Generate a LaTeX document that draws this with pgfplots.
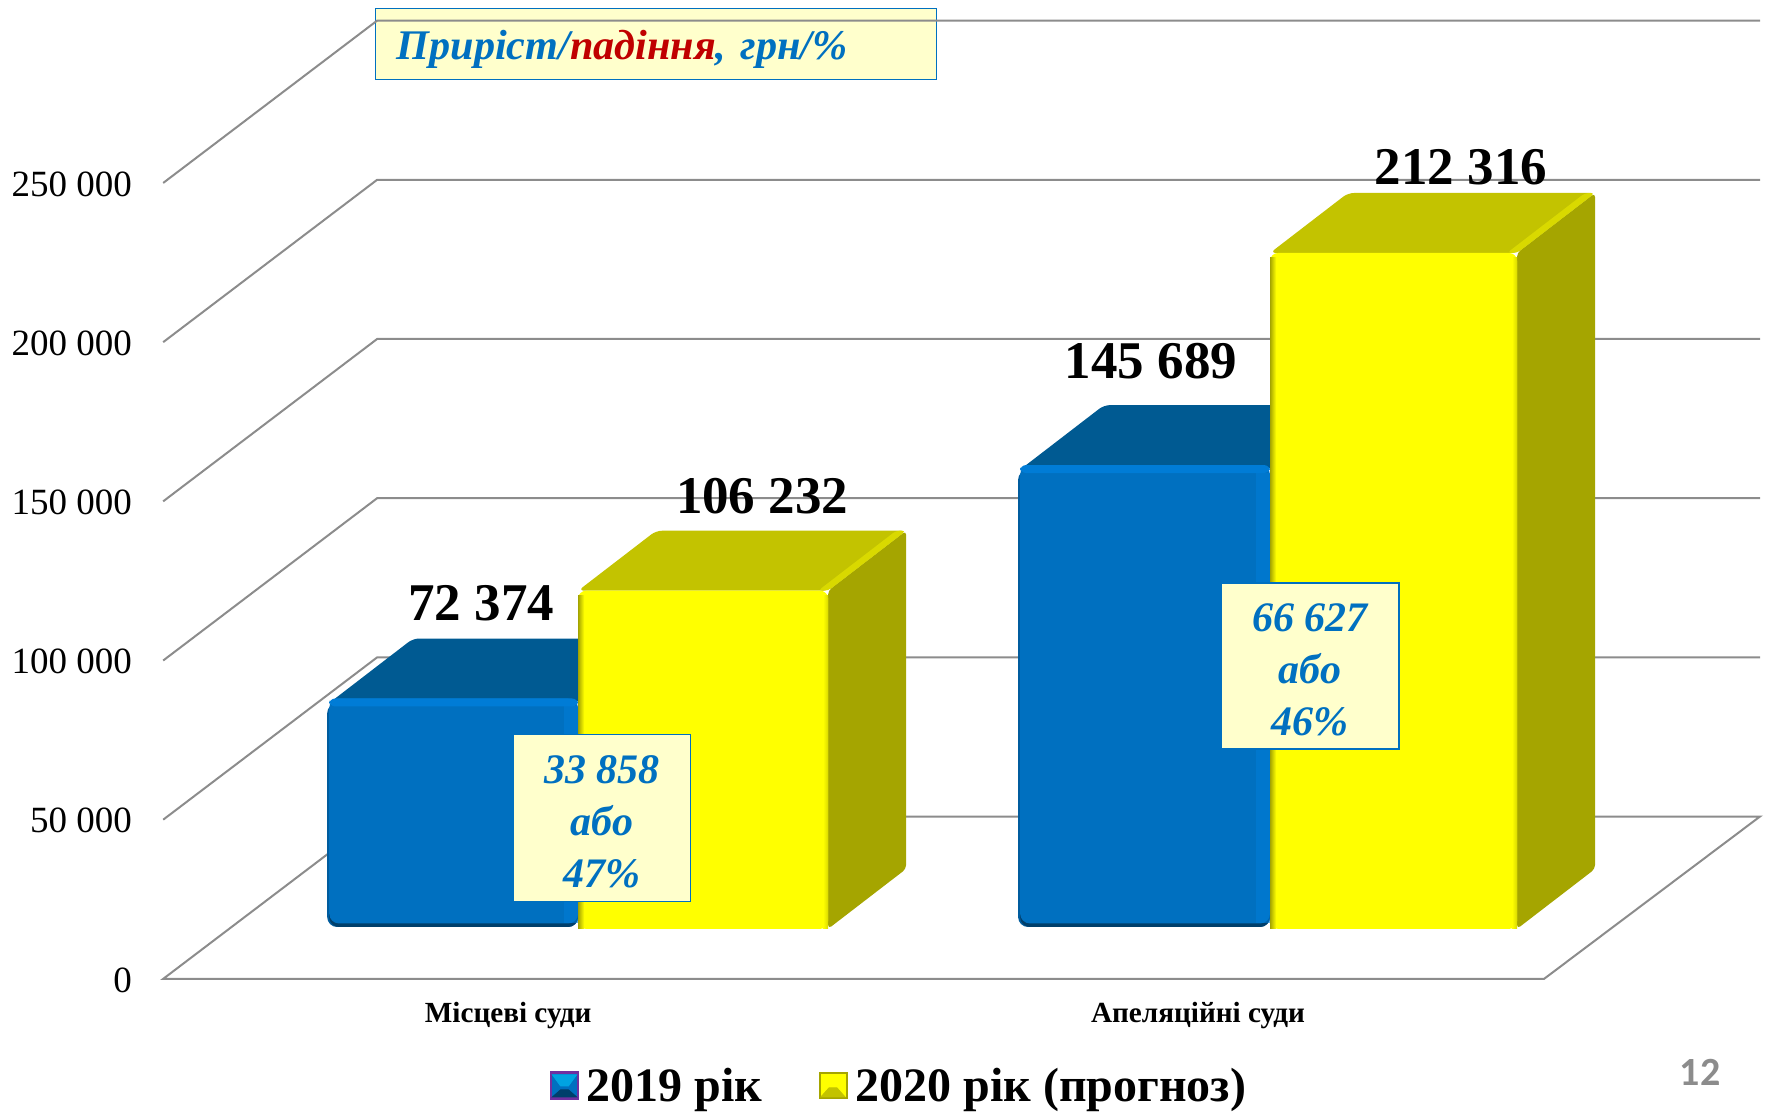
\documentclass[border=0pt]{standalone}
\usepackage{fontspec}
\setmainfont{Liberation Serif}
\newfontfamily\calib{Carlito}
\usepackage{pgfplots}
\pgfplotsset{compat=1.18}
\definecolor{barBlue}{HTML}{0070C0}
\definecolor{blueTop}{HTML}{005A92}
\definecolor{blueDark}{HTML}{003F6B}
\definecolor{blueMid}{HTML}{005C9E}
\definecolor{blueLight}{HTML}{007CD6}
\definecolor{barYellow}{HTML}{FFFF00}
\definecolor{yelTop}{HTML}{C3C300}
\definecolor{yelSide}{HTML}{A5A500}
\definecolor{yelEdge}{HTML}{D9D900}
\definecolor{boxFill}{HTML}{FFFFCC}
\definecolor{gridGray}{HTML}{8C8C8C}
\definecolor{numRed}{HTML}{C00000}
\definecolor{legPurple}{HTML}{7030A0}

% picture is laid out in reference pixels: x = px, y = value, 1 px = 0.5pt
\newcommand\py[1]{\the\numexpr(979-#1)*3141/10\relax}
\newcommand\fs[1]{\fontsize{#1}{#1}\selectfont}

\tikzset{
  wall/.style={draw=gridGray, line width=1pt, line join=miter},
  face/.style={draw=none},
  callout/.style={draw=barBlue, fill=boxFill, line width=0.8pt, align=center,
    text=barBlue, font=\fontsize{21}{26}\selectfont\bfseries\itshape, inner sep=0pt},
  datalabel/.style={font=\fs{26.5}\bfseries, inner sep=0pt},
}

% arguments: left px, right px, value
\newcommand\BlueBar[3]{%
  \edef\low{16300}%
  \edef\topv{\the\numexpr#3+15700\relax}%
  \edef\backv{\the\numexpr#3+15700+18840\relax}%
  \edef\strip{\the\numexpr#3+15700-2500\relax}%
  \edef\under{\the\numexpr#3+15700-1200\relax}%
  \edef\xa{#1}\edef\xb{#2}%
  \edef\xs{\the\numexpr#1+3\relax}%
  \edef\xc{\the\numexpr#1+86\relax}\edef\xd{\the\numexpr#2+86\relax}%
  \edef\xin{\the\numexpr#1+2\relax}\edef\xr{\the\numexpr#2-14\relax}%
  \edef\lowin{\the\numexpr16300+1100\relax}%
  \edef\toplow{\the\numexpr#3+15700-1500\relax}%
  \addplot[forget plot, face, fill=blueTop, rounded corners=3pt] coordinates
    {(\xs,\under) (\xb,\under) (\xd,\backv) (\xc,\backv)} --cycle;
  \addplot[forget plot, face, fill=blueMid, rounded corners=5pt] coordinates
    {(\xa,\low) (\xb,\low) (\xb,\toplow) (\xa,\toplow)} --cycle;
  \addplot[forget plot, face, fill=blueDark, rounded corners=5pt] coordinates
    {(\xin,\low) (\xb,\low) (\xb,\strip) (\xin,\strip)} --cycle;
  \addplot[forget plot, face, fill=barBlue, rounded corners=5pt] coordinates
    {(\xin,\lowin) (\xb,\lowin) (\xb,\topv) (\xin,\topv)} --cycle;
  \addplot[forget plot, face, fill=blueLight, rounded corners=3pt] coordinates
    {(\xin,\strip) (\xb,\strip) (\xb,\topv) (\xin,\topv)} --cycle;
  \addplot[forget plot, face, fill=blueLight, opacity=.6] coordinates
    {(\xr,\lowin) (\xb,\lowin) (\xb,\strip) (\xr,\strip)} --cycle;
}
\newcommand\YellowBar[3]{%
  \edef\base{15700}%
  \edef\topv{\the\numexpr#3+15700\relax}%
  \edef\backv{\the\numexpr#3+15700+18840\relax}%
  \edef\floorb{\the\numexpr15700+18840\relax}%
  \edef\toplow{\the\numexpr#3+15700-1500\relax}%
  \edef\xa{#1}\edef\xb{#2}%
  \edef\xc{\the\numexpr#1+78\relax}\edef\xd{\the\numexpr#2+78\relax}%
  \edef\xl{\the\numexpr#1+6\relax}\edef\xr{\the\numexpr#2-5\relax}%
  \edef\xe{\the\numexpr#2-10\relax}\edef\xf{\the\numexpr#2+68\relax}%
  \addplot[forget plot, face, fill=yelSide, rounded corners=2pt] coordinates
    {(\xb,\base) (\xd,\floorb) (\xd,\backv) (\xb,\topv)} --cycle;
  \addplot[forget plot, face, fill=yelTop, rounded corners=3pt] coordinates
    {(\xa,\topv) (\xb,\topv) (\xd,\backv) (\xc,\backv)} --cycle;
  \addplot[forget plot, face, fill=yelEdge, rounded corners=2pt] coordinates
    {(\xe,\topv) (\xb,\topv) (\xd,\backv) (\xf,\backv)} --cycle;
  \addplot[forget plot, face, fill=barYellow, rounded corners=4pt] coordinates
    {(\xa,\base) (\xb,\base) (\xb,\topv) (\xa,\topv)} --cycle;
  \addplot[forget plot, face, left color=yelSide, right color=barYellow] coordinates
    {(\xa,\base) (\xl,\base) (\xl,\toplow) (\xa,\toplow)} --cycle;
  \addplot[forget plot, face, left color=barYellow, right color=yelEdge] coordinates
    {(\xr,\base) (\xb,\base) (\xb,\toplow) (\xr,\toplow)} --cycle;
}

\begin{document}
\begin{tikzpicture}
\begin{axis}[
  scale only axis, width=883.5pt, height=556pt,
  xmin=0, xmax=1767, ymin=-41771, ymax=307475,
  axis line style={draw=none},
  major tick length=0pt,
  axis x line*=bottom, axis y line*=left,
  scaled y ticks=false,
  ytick={0,50000,100000,150000,200000,250000},
  yticklabels={0,50 000,100 000,150 000,200 000,250 000},
  yticklabel style={font=\fs{18.5}, anchor=east, xshift=66pt, yshift=-0.5pt, inner xsep=0pt},
  xtick={508,1198},
  xticklabels={Місцеві суди,Апеляційні суди},
  xticklabel style={font=\fs{14.6}\bfseries, anchor=center, yshift=48pt},
  legend columns=2,
  legend style={draw=none, fill=none, at={(axis cs:902,\py{1086})}, anchor=center,
    font=\fs{24}\bfseries, inner sep=0pt,
    /tikz/every even column/.append style={column sep=24pt},
    nodes={inner xsep=4pt, inner ysep=0pt}},
  legend cell align=left,
]
  % header box sits under the top gridline
  \node[callout, anchor=center, minimum height=35.5pt, text width=259.5pt,
        inner xsep=10.5pt, align=left, font=\fs{21.1}\bfseries\itshape]
    at (axis cs:656,\py{44}) {\raisebox{-7.8pt}[0pt][0pt]{Приріст/\textcolor{numRed}{падіння}, грн/\%}};

  % floor and back wall
  \addplot[wall, forget plot] coordinates {(163,0) (1544,0) (1760,51000) (377,51000)} --cycle;
  \addplot[wall, forget plot] coordinates {(163,50000) (377,101000) (1760,101000)};
  \addplot[wall, forget plot] coordinates {(163,100000) (377,151000) (1760,151000)};
  \addplot[wall, forget plot] coordinates {(163,150000) (377,201000) (1760,201000)};
  \addplot[wall, forget plot] coordinates {(163,200000) (377,251000) (1760,251000)};
  \addplot[wall, forget plot] coordinates {(163,250000) (377,301000) (1760,301000)};

  % bars
  \BlueBar{327}{578}{72374}
  \YellowBar{578}{828}{106232}
  \BlueBar{1018}{1270}{145689}
  \YellowBar{1270}{1517}{212316}

  % values above bars
  \node[datalabel] at (axis cs:481,\py{603}) {72 374};
  \node[datalabel] at (axis cs:762,\py{496}) {106 232};
  \node[datalabel] at (axis cs:1151,\py{361}) {145 689};
  \node[datalabel] at (axis cs:1461,\py{167}) {212 316};

  % difference callouts
  \node[callout, minimum width=88.5pt, minimum height=83.5pt] at (axis cs:602,\py{818})
    {\rule{0pt}{18pt}33 858\\або\\47\%};
  \node[callout, minimum width=89pt, minimum height=83pt] at (axis cs:1310,\py{666})
    {\rule{0pt}{18pt}66 627\\або\\46\%};

  \node[font=\calib\fs{20}\bfseries, text=gray!90, inner sep=0pt] at (axis cs:1700,\py{1073}) {12};

  \addlegendimage{legend image code/.code={
    \fill[legPurple] (0pt,-7pt) rectangle (14pt,7pt);
    \fill[barBlue] (1pt,-5.5pt) rectangle (13pt,5.5pt);
    \fill[blueLight!70!cyan] (1pt,5.5pt) -- (13pt,5.5pt) -- (9pt,0pt) -- (5pt,0pt) -- cycle;
    \fill[blueDark] (1pt,-5.5pt) -- (13pt,-5.5pt) -- (9pt,-2pt) -- (5pt,-2pt) -- cycle;
  }}
  \addlegendentry{2019 рік}
  \addlegendimage{legend image code/.code={
    \fill[yelSide] (0pt,-6.5pt) rectangle (14pt,6.5pt);
    \fill[barYellow] (1pt,-5.5pt) rectangle (13pt,5.5pt);
    \fill[yelTop] (1pt,-5.5pt) -- (13pt,-5.5pt) -- (9pt,-1pt) -- (5pt,-1pt) -- cycle;
  }}
  \addlegendentry{2020 рік (прогноз)}
\end{axis}
\end{tikzpicture}
\end{document}
